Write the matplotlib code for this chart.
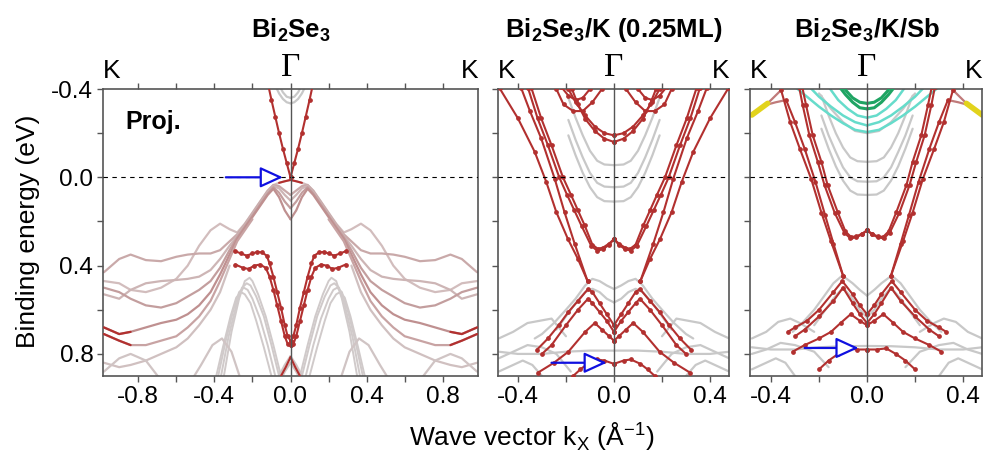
import matplotlib.pyplot as plt
import numpy as np

plt.rcParams["font.family"] = ["Liberation Sans", "DejaVu Sans"]
plt.rcParams["mathtext.fontset"] = "custom"
plt.rcParams["mathtext.rm"] = "Liberation Sans"
plt.rcParams["mathtext.bf"] = "Liberation Sans:bold"

nan = np.nan

# ---------------- panel 1: Bi2Se3 (right half, mirrored about Gamma) ----------------
p1_k = [0, .03, .06, .09, .12, .16, .2, .24, .28, .32, .37, .42, .48, .54, .6, .68, .76, .84, .9, .98]
p1_b1 = [.012, .018, .025, .035, .06, .11, .16, .21, .25, .235, .21, .24, .31, .40, .46, .50, .52, .51, .48, .47]
p1_b2 = [.08, .06, .04, .035, .062, .112, .163, .213, .258, .29, .33, .345, .345, .35, .36, .38, .375, .35, .37, .43]
p1_b3 = [.105, .08, .05, .04, .068, .118, .168, .218, .265, .31, .37, .42, .45, .46, .465, .47, .48, .51, .55, .53]
p1_b4 = [.14, .11, .07, .045, .074, .124, .174, .224, .272, .33, .41, .47, .51, .54, .57, .59, .58, .55, .52, .50]
p1_b5 = [.19, .15, .09, .052, .08, .13, .18, .23, .28, .35, .44, .52, .58, .62, .645, .66, .68, .70, .71, .68]
p1_b6 = [nan, nan, nan, nan, nan, nan, .19, .24, .29, .37, .47, .56, .63, .68, .72, .74, .76, .76, .74, .71]
p1_b7 = [nan, nan, nan, nan, nan, nan, nan, nan, nan, .40, .52, .60, .67, .73, .77, .80, .83, .85, .86, .84]
p1_pink = ["#d2bdbd", "#c9a9a9", "#cdb5b5", "#c39e9e", "#bf9090", "#c8a3a3", "#d0c0c0"]

p1_lam1_k = [.05, .09, .13, .17, .2, .215, .24, .27, .31, .35]
p1_lam1_e = [.9, .76, .63, .53, .47, .455, .47, .55, .7, .9]
p1_lam2_k = [.06, .1, .14, .18, .21, .23, .255, .285, .325, .365]
p1_lam2_e = [.9, .76, .63, .54, .49, .48, .5, .58, .72, .9]
p1_lam3_k = [.08, .12, .16, .2, .225, .245, .27, .3, .34, .38]
p1_lam3_e = [.9, .76, .64, .55, .51, .5, .52, .6, .74, .9]
p1_lam4_k = [.1, .14, .18, .21, .24, .26, .285, .315, .355, .39]
p1_lam4_e = [.9, .77, .65, .57, .53, .52, .545, .63, .77, .9]

p1_dirac_k = [0, .02, .04, .06, .08, .10, .12]
p1_dirac_e = [0, -.065, -.13, -.2, -.275, -.35, -.43]
p1_top_k = [0, .03, .06]
p1_top_e = [.012, .018, .025]
p1_r1_k = [0, .015, .03, .05, .07, .09, .11, .125, .15, .175, .2, .23, .26, .29]
p1_r1_e = [.74, .72, .67, .59, .52, .45, .39, .355, .34, .338, .345, .355, .345, .335]
p1_r2_k = [0, .015, .03, .05, .07, .09, .11, .13, .16, .19, .22, .25, .29]
p1_r2_e = [.76, .755, .72, .65, .58, .51, .45, .41, .395, .40, .415, .41, .395]
p1_tail_k = [.84, .9, .98]
p1_tail1_e = [.70, .71, .68]
p1_tail2_e = [.76, .74, .71]
p1_v_k = [0, .025, .05]
p1_v_e = [.815, .86, .9]

p1_cb1_k = [0, .02, .04, .06, .08]
p1_cb1_e = [-.335, -.34, -.355, -.38, -.415]
p1_cb2_k = [0, .02, .04, .055]
p1_cb2_e = [-.36, -.365, -.385, -.41]
p1_s_k = [0, .03, .06]
p1_s1_e = [.81, .85, .9]
p1_s2_e = [.84, .88, .93]
p1_h1_k = [.26, .31, .36, .41, .47, .52]
p1_h1_e = [.92, .79, .73, .76, .85, .92]
p1_h2_k = [.68, .76, .84, .9, .98]
p1_h2_e = [.92, .83, .80, .82, .88]

# ---------------- panel 2: Bi2Se3/K (0.25ML) ----------------
p2_lo1_k = [.11, .15, .192, .24, .282, .33, .4, .476]
p2_lo1_e = [.47, .37, .279, .158, .021, -.115, -.267, -.403]
p2_lo2_k = [.11, .164, .206, .247, .303, .35, .386]
p2_lo2_e = [.47, .30, .158, .006, -.176, -.30, -.403]
p2_u1_k = [0, .02, .045, .067, .09, .122, .15, .178, .2125, .26, .303, .344]
p2_u1_e = [.28, .3, .318, .324, .305, .218, .15, .082, 0, -.145, -.267, -.405]
p2_u2_k = [0, .02, .045, .07, .095, .135, .165, .195, .228, .275, .318, .358]
p2_u2_e = [.28, .305, .325, .332, .31, .22, .15, .08, 0, -.145, -.267, -.405]
p2_t1_k = [0, .04, .08, .12, .16, .19]
p2_t1_e = [-.19, -.2, -.23, -.28, -.34, -.4]
p2_t2_k = [0, .04, .08, .12, .15, .175]
p2_t2_e = [-.16, -.175, -.21, -.265, -.33, -.4]
p2_t3_k = [.05, .09, .13, .17, .21, .24]
p2_t3_e = [-.4, -.34, -.3, -.3, -.33, -.4]
p2_t4_k = [.1, .13, .16, .19, .22]
p2_t4_e = [-.4, -.36, -.35, -.37, -.41]
p2_g_k = [0, .04, .07, .1, .13, .16, .19]
p2_g1_e = [-.055, -.058, -.075, -.12, -.19, -.27, -.36]
p2_g2_e = [.045, .042, .025, -.02, -.09, -.17, -.26]
p2_g3_e = [.11, .108, .09, .045, -.02, -.1, -.19]
p2_gm1_k = [0, .03, .06, .09, .12, .16, .2, .25, .3, .33]
p2_gm1_e = [.506, .49, .47, .46, .49, .55, .6, .66, .71, .73]
p2_gm2_k = [0, .03, .06, .09, .12, .16, .2, .24]
p2_gm2_e = [.567, .55, .52, .505, .52, .57, .63, .69]
p2_rl1_k = [0, .03, .06, .09, .108, .15, .19, .23, .275, .32]
p2_rl1_e = [.67, .62, .57, .52, .506, .56, .61, .67, .73, .78]
p2_rl2_k = [0, .03, .06, .09, .108, .15, .2, .26, .3]
p2_rl2_e = [.7, .65, .61, .57, .55, .6, .67, .76, .8]
p2_rl3_k = [0, .02, .05, .08, .12, .19, .25, .317]
p2_rl3_e = [.74, .72, .69, .66, .7, .79, .84, .885]
p2_rb_k = [0, .04, .07, .11, .14, .17]
p2_rb_e = [.845, .83, .825, .845, .87, .9]
p2_gf_k = [0, .1, .2, .3, .4, .48]
p2_gf_e = [.785, .785, .79, .8, .8, .79]
p2_gz1_k = [.2, .26, .31, .36, .42, .48]
p2_gz1_e = [.72, .64, .65, .66, .7, .73]
p2_gz2_k = [.18, .24, .3, .36, .42, .48]
p2_gz2_e = [.88, .8, .77, .76, .79, .82]
p2_gz3_k = [.3, .34, .38, .42, .48]
p2_gz3_e = [.9, .85, .83, .85, .88]

# ---------------- panel 3: Bi2Se3/K/Sb ----------------
p3_lo1_k = [.1, .15, .19, .233, .28, .32, .358]
p3_lo1_e = [.445, .29, .16, .006, -.13, -.25, -.395]
p3_lo2_k = [.1, .14, .175, .215, .26, .3, .337]
p3_lo2_e = [.445, .30, .17, .02, -.13, -.25, -.35]
p3_kink1_k = [.358, .414]
p3_kink1_e = [-.395, -.335]
p3_kink2_k = [.337, .38, .414]
p3_kink2_e = [-.35, -.34, -.33]
p3_yel_k = [.414, .48]
p3_yel_e = [-.335, -.282]
p3_u1_k = [0, .02, .045, .067, .09, .122, .164, .19, .226, .254, .27]
p3_u1_e = [.24, .255, .268, .27, .245, .158, .036, -.07, -.19, -.327, -.41]
p3_u2_k = [0, .02, .045, .07, .095, .135, .177, .205, .24, .268, .283]
p3_u2_e = [.24, .258, .272, .276, .25, .16, .036, -.07, -.19, -.327, -.41]
p3_gr1_k = [0, .03, .06, .09, .115]
p3_gr1_e = [-.31, -.315, -.34, -.375, -.41]
p3_gr2_k = [0, .03, .06, .085, .1]
p3_gr2_e = [-.335, -.34, -.36, -.39, -.41]
p3_t1_k = [0, .05, .1, .15, .2, .25, .3]
p3_t1_e = [-.205, -.215, -.245, -.28, -.32, -.365, -.41]
p3_t2_k = [0, .05, .1, .15, .2, .24]
p3_t2_e = [-.235, -.25, -.28, -.32, -.365, -.41]
p3_t3_k = [0, .04, .08, .12, .16]
p3_t3_e = [-.27, -.28, -.31, -.35, -.41]
p3_g_k = [0, .04, .07, .1, .13, .16, .19]
p3_g1_e = [-.07, -.073, -.09, -.135, -.2, -.28, -.37]
p3_g2_e = [.02, .018, 0, -.045, -.115, -.19, -.28]
p3_g3_e = [.08, .078, .06, .015, -.05, -.13, -.22]
p3_gp_k = [0, .05, .1, .15, .2]
p3_gp_e = [-.2, -.21, -.25, -.31, -.38]
p3_gm1_k = [0, .03, .06, .103, .14, .18, .22, .27, .31]
p3_gm1_e = [.536, .51, .48, .445, .48, .54, .6, .66, .7]
p3_gm2_k = [0, .03, .06, .1, .14, .18, .22]
p3_gm2_e = [.635, .6, .55, .5, .55, .61, .67]
p3_rl1_k = [0, .03, .06, .103, .14, .2, .25, .3, .33]
p3_rl1_e = [.62, .58, .53, .47, .52, .6, .65, .68, .7]
p3_rl2_k = [0, .03, .06, .1, .14, .2, .26, .3]
p3_rl2_e = [.66, .62, .57, .5, .56, .63, .69, .72]
p3_rl3_k = [0, .03, .068, .11, .15, .2, .26, .31]
p3_rl3_e = [.67, .65, .62, .66, .7, .73, .76, .79]
p3_rb_k = [0, .04, .08, .12, .16, .2]
p3_rb_e = [.78, .78, .775, .8, .83, .87]
p3_gf_k = [0, .1, .2, .3, .4, .48]
p3_gf_e = [.764, .765, .77, .78, .78, .77]
p3_gz1_k = [.22, .28, .32, .37, .42, .48]
p3_gz1_e = [.7, .66, .64, .655, .7, .73]
p3_gz2_k = [.16, .22, .3, .36, .42, .48]
p3_gz2_e = [.86, .79, .76, .75, .78, .8]
p3_gz3_k = [.3, .34, .38, .42, .48]
p3_gz3_e = [.9, .84, .82, .84, .87]

# arrows: (k_start, k_end, energy)
arrow1 = [-0.34, -0.04, 0.0]
arrow2 = [-0.26, -0.03, 0.84]
arrow3 = [-0.26, -0.035, 0.773]

titles = [r"Bi$_\mathbf{2}$Se$_\mathbf{3}$", r"Bi$_\mathbf{2}$Se$_\mathbf{3}$/K (0.25ML)",
          r"Bi$_\mathbf{2}$Se$_\mathbf{3}$/K/Sb"]

RED = "#b2302f"
GRAY = "#c8c8c8"


def band(ax, k, e, color, lw=1.6, dots=False, z=2):
    k = np.asarray(k, float)
    e = np.asarray(e, float)
    for s in (1, -1):
        ax.plot(s * k, e, color=color, lw=lw, zorder=z,
                marker="o" if dots else None, ms=2.4, solid_capstyle="round")


fig = plt.figure(figsize=(9.89, 4.53), dpi=100)
ax1 = fig.add_axes([103 / 989, 77 / 453, 375 / 989, 287 / 453])
ax2 = fig.add_axes([498 / 989, 77 / 453, 231 / 989, 287 / 453])
ax3 = fig.add_axes([750 / 989, 77 / 453, 232 / 989, 287 / 453])

# panel 1
for e, c in zip([p1_b1, p1_b2, p1_b3, p1_b4, p1_b5, p1_b6, p1_b7], p1_pink):
    band(ax1, p1_k, e, c)
for k, e in [(p1_lam1_k, p1_lam1_e), (p1_lam2_k, p1_lam2_e),
             (p1_lam3_k, p1_lam3_e), (p1_lam4_k, p1_lam4_e)]:
    band(ax1, k, e, "#d0caca", lw=1.4)
band(ax1, p1_cb1_k, p1_cb1_e, GRAY)
band(ax1, p1_cb2_k, p1_cb2_e, GRAY)
band(ax1, p1_s_k, p1_s1_e, "#cfc4c4")
band(ax1, p1_s_k, p1_s2_e, "#cfc4c4")
band(ax1, p1_h1_k, p1_h1_e, "#d0c4c4")
band(ax1, p1_h2_k, p1_h2_e, "#d0c4c4")
band(ax1, p1_dirac_k, p1_dirac_e, RED, lw=1.5, dots=True, z=3)
band(ax1, p1_top_k, p1_top_e, RED, lw=1.5, z=3)
band(ax1, p1_r1_k, p1_r1_e, RED, lw=1.5, dots=True, z=3)
band(ax1, p1_r2_k, p1_r2_e, RED, lw=1.5, dots=True, z=3)
band(ax1, p1_tail_k, p1_tail1_e, RED, z=3)
band(ax1, p1_tail_k, p1_tail2_e, RED, z=3)
band(ax1, p1_v_k, p1_v_e, RED, lw=1.5, z=3)

# panel 2
for k, e in [(p2_g_k, p2_g1_e), (p2_g_k, p2_g2_e), (p2_g_k, p2_g3_e),
             (p2_gm1_k, p2_gm1_e), (p2_gm2_k, p2_gm2_e), (p2_gf_k, p2_gf_e),
             (p2_gz1_k, p2_gz1_e), (p2_gz2_k, p2_gz2_e), (p2_gz3_k, p2_gz3_e)]:
    band(ax2, k, e, GRAY)
for k, e in [(p2_lo1_k, p2_lo1_e), (p2_lo2_k, p2_lo2_e), (p2_u1_k, p2_u1_e),
             (p2_u2_k, p2_u2_e), (p2_t1_k, p2_t1_e), (p2_t2_k, p2_t2_e),
             (p2_t3_k, p2_t3_e), (p2_t4_k, p2_t4_e), (p2_rl1_k, p2_rl1_e),
             (p2_rl2_k, p2_rl2_e), (p2_rl3_k, p2_rl3_e), (p2_rb_k, p2_rb_e)]:
    band(ax2, k, e, RED, lw=1.5, dots=True, z=3)

# panel 3
for k, e in [(p3_g_k, p3_g1_e), (p3_g_k, p3_g2_e), (p3_g_k, p3_g3_e),
             (p3_gp_k, p3_gp_e), (p3_gm1_k, p3_gm1_e), (p3_gm2_k, p3_gm2_e),
             (p3_gf_k, p3_gf_e), (p3_gz1_k, p3_gz1_e), (p3_gz2_k, p3_gz2_e),
             (p3_gz3_k, p3_gz3_e)]:
    band(ax3, k, e, GRAY)
for k, e in [(p3_t1_k, p3_t1_e), (p3_t2_k, p3_t2_e), (p3_t3_k, p3_t3_e)]:
    band(ax3, k, e, "#66dccb", lw=1.8)
for k, e in [(p3_gr1_k, p3_gr1_e), (p3_gr2_k, p3_gr2_e)]:
    band(ax3, k, e, "#1fa463", lw=2.2, z=3)
band(ax3, p3_kink1_k, p3_kink1_e, "#c07a7a")
band(ax3, p3_kink2_k, p3_kink2_e, "#c07a7a")
band(ax3, p3_yel_k, p3_yel_e, "#e2d31c", lw=4)
for k, e in [(p3_lo1_k, p3_lo1_e), (p3_lo2_k, p3_lo2_e), (p3_u1_k, p3_u1_e),
             (p3_u2_k, p3_u2_e), (p3_rl1_k, p3_rl1_e), (p3_rl2_k, p3_rl2_e),
             (p3_rl3_k, p3_rl3_e), (p3_rb_k, p3_rb_e)]:
    band(ax3, k, e, RED, lw=1.5, dots=True, z=3)

# common axis styling
xlims = [(-0.985, 0.985), (-0.483, 0.479), (-0.4875, 0.479)]
centers = [291, 614, 867]
for i, (ax, xl, arr) in enumerate(zip([ax1, ax2, ax3], xlims, [arrow1, arrow2, arrow3])):
    ax.set_xlim(xl)
    ax.set_ylim(0.9, -0.4)
    ax.axhline(0, color="k", lw=0.8, ls=(0, (4, 4)), zorder=4)
    ax.axvline(0, color="#555555", lw=1.0, zorder=4)
    ax.set_xticks(np.arange(-0.8, 0.81, 0.4) if i == 0 else [-0.4, 0.0, 0.4])
    ax.set_xticks(np.arange(-0.8, 0.81, 0.2) if i == 0 else np.arange(-0.4, 0.41, 0.2), minor=True)
    ax.set_yticks([-0.4, 0.0, 0.4, 0.8])
    ax.set_yticks(np.arange(-0.4, 0.81, 0.2), minor=True)
    ax.set_xticklabels(["%.1f" % v for v in ax.get_xticks()])
    if i == 0:
        ax.set_yticklabels(["%.1f" % v for v in ax.get_yticks()])
    else:
        ax.set_yticklabels([])
    ax.tick_params(which="both", direction="out", top=True, length=4, width=1,
                   color="#555555", labelsize=17.5, pad=3)
    for sp in ax.spines.values():
        sp.set_color("#555555")
        sp.set_linewidth(1.2)
    ax.text(0, 1.022, "K", transform=ax.transAxes, ha="left", va="bottom", fontsize=19)
    ax.text(1, 1.022, "K", transform=ax.transAxes, ha="right", va="bottom", fontsize=19)
    ax.text(0, 1.022, "\u0393", transform=ax.get_xaxis_transform(), ha="center", va="bottom",
            fontsize=24, family="Liberation Serif")
    ax.annotate("", xy=(arr[1], arr[2]), xytext=(arr[0], arr[2]),
                arrowprops=dict(arrowstyle="-|>,head_length=0.7,head_width=0.32",
                                ec="#1010e0", fc="white", lw=1.6, shrinkA=0, shrinkB=0,
                                mutation_scale=20), zorder=6)
    fig.text(centers[i] / 989, 1 - 30 / 453, titles[i], ha="center", va="center",
             fontsize=18.5, fontweight="bold")

ax1.text(0.06, 0.885, "Proj.", transform=ax1.transAxes, ha="left", va="center",
         fontsize=18, fontweight="bold")

fig.text(28 / 989, 0.49, "Binding energy (eV)", rotation=90, ha="center", va="center", fontsize=19)
fig.text(532 / 989, 1 - 437 / 453, r"Wave vector k$_\mathrm{X}$ ($\mathrm{\AA}^{-1}$)",
         ha="center", va="center", fontsize=19)

fig.savefig("out.png", dpi=100)
